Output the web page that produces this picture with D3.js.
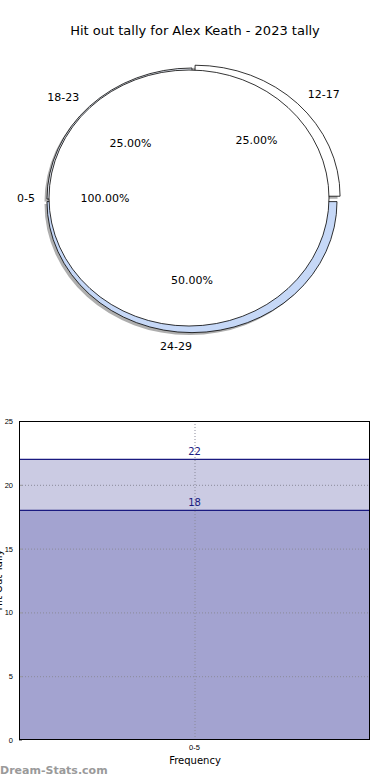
<!DOCTYPE html>
<html>
<head>
<meta charset="utf-8">
<script src="https://cdn.jsdelivr.net/npm/d3@7"></script>
<style>
  body { margin: 0; background: #fff; }
  svg { display: block; font-family: "DejaVu Sans", sans-serif; }
</style>
</head>
<body>
<div id="chart"></div>
<script>

// Hit out tally for Alex Keath - 2023
var title = "Hit out tally for Alex Keath - 2023 tally";

// outer ring (rounds grouped)
var ringLabels = ["12-17", "18-23", "24-29"];
var ringValues = [1, 1, 2];
var ringExplode = [0.03, 0, 0.02];

// inner pie
var innerLabels = ["0-5"];
var innerValues = [1];

// bar panel
var barCategories = ["0-5"];
var barValues = [22, 18];
var yTicks = [0, 5, 10, 15, 20, 25];


var W = 390, H = 780;

var svg = d3.select("#chart")
  .append("svg")
  .attr("width", W)
  .attr("height", H);

svg.append("text")
  .attr("x", 195)
  .attr("y", 35)
  .attr("text-anchor", "middle")
  .style("font-size", "13px")
  .text(title);

var pct = d3.format(".2f");

// ---- pie part (elliptical, drawn on unit arcs then scaled) ----
var ring = { cx: 192, cy: 199, rx: 145, ry: 131 };
var inner = { cx: 189, cy: 198, rx: 140, ry: 128 };

var ringPie = d3.pie().sort(null).startAngle(Math.PI / 2).endAngle(-3 * Math.PI / 2);
var innerPie = d3.pie().sort(null).startAngle(Math.PI / 2).endAngle(-3 * Math.PI / 2);

var ringArc = d3.arc().innerRadius(0.9).outerRadius(1);
var innerArc = d3.arc().innerRadius(0).outerRadius(1);

var ringData = ringPie(ringValues);
var innerData = innerPie(innerValues);
var ringTotal = d3.sum(ringValues);
var innerTotal = d3.sum(innerValues);

var ringFill = ["#ffffff", "#e8edf7", "#c6d8f7"];

function mid(d) { return (d.startAngle + d.endAngle) / 2; }

function ringOffset(d, i) {
  var a = mid(d), e = ringExplode[i];
  return [Math.sin(a) * e * ring.rx, -Math.cos(a) * e * ring.ry];
}

function ringTransform(d, i, dx, dy) {
  var o = ringOffset(d, i);
  return "translate(" + (ring.cx + o[0] + dx) + "," + (ring.cy + o[1] + dy) + ") scale(" + ring.rx + "," + ring.ry + ")";
}

// shadows first (both pies), then wedges
var shadowG = svg.append("g").attr("opacity", 0.45);
shadowG.selectAll("path.rs")
  .data(ringData).enter()
  .append("path")
  .attr("class", "rs")
  .attr("d", ringArc)
  .attr("transform", function (d, i) { return ringTransform(d, i, -2.5, 2.5); })
  .attr("fill", "#4d4d4d");

shadowG.selectAll("path.is")
  .data(innerData).enter()
  .append("path")
  .attr("class", "is")
  .attr("d", innerArc)
  .attr("transform", "translate(" + (inner.cx - 2.5) + "," + (inner.cy + 2.5) + ") scale(" + inner.rx + "," + inner.ry + ")")
  .attr("fill", "#4d4d4d");

svg.selectAll("path.ring")
  .data(ringData).enter()
  .append("path")
  .attr("class", "ring")
  .attr("d", ringArc)
  .attr("transform", function (d, i) { return ringTransform(d, i, 0, 0); })
  .attr("fill", function (d, i) { return ringFill[i]; })
  .attr("stroke", "#000")
  .attr("stroke-width", 0.8)
  .attr("vector-effect", "non-scaling-stroke");

svg.selectAll("path.inner")
  .data(innerData).enter()
  .append("path")
  .attr("class", "inner")
  .attr("d", innerArc)
  .attr("transform", "translate(" + inner.cx + "," + inner.cy + ") scale(" + inner.rx + "," + inner.ry + ")")
  .attr("fill", "#ffffff")
  .attr("stroke", "#000")
  .attr("stroke-width", 0.8)
  .attr("vector-effect", "non-scaling-stroke");

function pieLabels(data, labels, total, geo, offs) {
  data.forEach(function (d, i) {
    var a = mid(d);
    var o = offs ? offs(d, i) : [0, 0];
    var sx = Math.sin(a), sy = -Math.cos(a);
    svg.append("text")
      .attr("x", geo.cx + o[0] + 1.1 * geo.rx * sx)
      .attr("y", geo.cy + o[1] + 1.1 * geo.ry * sy)
      .attr("dy", "0.35em")
      .attr("text-anchor", sx < 0 ? "end" : "start")
      .style("font-size", "11px")
      .text(labels[i]);
    svg.append("text")
      .attr("x", geo.cx + o[0] + 0.6 * geo.rx * sx)
      .attr("y", geo.cy + o[1] + 0.6 * geo.ry * sy)
      .attr("dy", "0.35em")
      .attr("text-anchor", "middle")
      .style("font-size", "11px")
      .text(pct(d.data / total * 100) + "%");
  });
}

pieLabels(ringData, ringLabels, ringTotal, ring, ringOffset);
pieLabels(innerData, innerLabels, innerTotal, inner, null);

// ---- bar part ----
var plot = { left: 19, right: 370, top: 421, bottom: 740 };

var xScale = d3.scaleBand()
  .domain(barCategories)
  .range([plot.left, plot.right])
  .padding(0);

var yScale = d3.scaleLinear()
  .domain([0, 25])
  .range([plot.bottom, plot.top]);

var barFill = ["#cbcbe3", "#a3a3d0"];

svg.selectAll("rect.bar")
  .data(barValues).enter()
  .append("rect")
  .attr("class", "bar")
  .attr("x", xScale(barCategories[0]))
  .attr("width", xScale.bandwidth())
  .attr("y", function (d) { return yScale(d); })
  .attr("height", function (d) { return plot.bottom - yScale(d); })
  .attr("fill", function (d, i) { return barFill[i]; });

svg.selectAll("line.top")
  .data(barValues).enter()
  .append("line")
  .attr("class", "top")
  .attr("x1", plot.left).attr("x2", plot.right)
  .attr("y1", function (d) { return yScale(d); })
  .attr("y2", function (d) { return yScale(d); })
  .attr("stroke", "#1a1a80")
  .attr("stroke-width", 1.2);

// grid
svg.selectAll("line.hgrid")
  .data(yTicks.slice(1, -1)).enter()
  .append("line")
  .attr("class", "hgrid")
  .attr("x1", plot.left).attr("x2", plot.right)
  .attr("y1", function (d) { return yScale(d) + 0.5; })
  .attr("y2", function (d) { return yScale(d) + 0.5; })
  .attr("stroke", "#8a8a9a")
  .attr("stroke-dasharray", "1,2");

svg.append("line")
  .attr("x1", xScale(barCategories[0]) + xScale.bandwidth() / 2 + 0.5)
  .attr("x2", xScale(barCategories[0]) + xScale.bandwidth() / 2 + 0.5)
  .attr("y1", plot.top).attr("y2", plot.bottom)
  .attr("stroke", "#8a8a9a")
  .attr("stroke-dasharray", "1,2");

svg.selectAll("text.val")
  .data(barValues).enter()
  .append("text")
  .attr("class", "val")
  .attr("x", xScale(barCategories[0]) + xScale.bandwidth() / 2)
  .attr("y", function (d) { return yScale(d) - 4; })
  .attr("text-anchor", "middle")
  .attr("fill", "#1a1a80")
  .style("font-size", "10px")
  .text(function (d) { return d; });

var yAxis = d3.axisLeft(yScale).tickValues(yTicks).tickSize(-3).tickPadding(6);
var xAxis = d3.axisBottom(xScale).tickSize(0).tickPadding(5);

var gy = svg.append("g")
  .attr("transform", "translate(" + plot.left + ",0)")
  .call(yAxis);
gy.select(".domain").remove();
gy.selectAll(".tick line").attr("stroke", "#999");
gy.selectAll("text").style("font-size", "7.5px").attr("fill", "#000");

var gx = svg.append("g")
  .attr("transform", "translate(0," + plot.bottom + ")")
  .call(xAxis);
gx.select(".domain").remove();
gx.selectAll("text").style("font-size", "7.5px").attr("fill", "#000");

svg.append("rect")
  .attr("x", plot.left + 0.5).attr("y", plot.top + 0.5)
  .attr("width", plot.right - plot.left - 1)
  .attr("height", plot.bottom - plot.top - 1)
  .attr("fill", "none")
  .attr("stroke", "#000")
  .attr("stroke-width", 1);

svg.append("text")
  .attr("x", 195)
  .attr("y", 764)
  .attr("text-anchor", "middle")
  .style("font-size", "10px")
  .text("Frequency");

// y label sits mostly off the left edge, as in the source image
svg.append("text")
  .attr("transform", "translate(2,580) rotate(-90)")
  .attr("text-anchor", "middle")
  .style("font-size", "10px")
  .text("Hit Out Tally");

svg.append("text")
  .attr("x", 0)
  .attr("y", 774)
  .attr("fill", "#9a9a9a")
  .style("font-size", "11px")
  .style("font-weight", "bold")
  .text("Dream-Stats.com");

</script>
</body>
</html>
